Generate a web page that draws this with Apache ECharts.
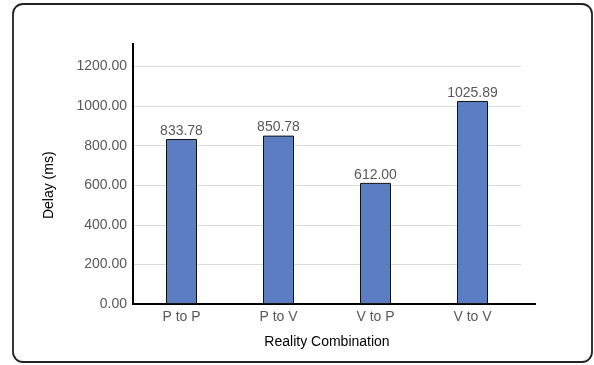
<!DOCTYPE html>
<html>
<head>
<meta charset="utf-8">
<script src="https://cdn.jsdelivr.net/npm/echarts@6/dist/echarts.min.js"></script>
<style>
  html, body { margin: 0; padding: 0; background: #ffffff; }
  #chart { width: 594px; height: 365px; }
</style>
</head>
<body>
<div id="chart"></div>
<script>
// Mean delay per reality combination
const categories = ['P to P', 'P to V', 'V to P', 'V to V'];
const delays = [833.78, 850.78, 612.00, 1025.89];
const yTicks = [0, 200, 400, 600, 800, 1000, 1200];

const FONT = '"Liberation Sans", Arial, sans-serif';
const chart = echarts.init(document.getElementById('chart'), null, { renderer: 'canvas' });

chart.setOption({
  animation: false,
  backgroundColor: '#ffffff',
  textStyle: { fontFamily: FONT },
  grid: { left: 133, right: 73, top: 66.5, bottom: 61 },
  xAxis: {
    type: 'category',
    data: categories,
    name: 'Reality Combination',
    nameLocation: 'middle',
    nameGap: 31,
    nameTextStyle: { color: '#000000', fontSize: 14, fontFamily: FONT },
    axisLine: { show: true, lineStyle: { color: '#000000', width: 2 } },
    axisTick: { show: false },
    axisLabel: { color: '#595959', fontSize: 14, margin: 6, fontFamily: FONT }
  },
  yAxis: {
    type: 'value',
    min: yTicks[0],
    max: yTicks[yTicks.length - 1],
    interval: 200,
    name: 'Delay (ms)',
    nameLocation: 'middle',
    nameGap: 77,
    nameTextStyle: { color: '#000000', fontSize: 14, fontFamily: FONT },
    axisLine: { show: true, lineStyle: { color: '#000000', width: 2 } },
    axisTick: { show: false },
    axisLabel: {
      color: '#595959', fontSize: 14, margin: 6, fontFamily: FONT,
      formatter: v => v.toFixed(2)
    },
    splitLine: { show: true, lineStyle: { color: '#d9d9d9', width: 1 } }
  },
  series: [{
    type: 'bar',
    data: delays,
    barWidth: 31,
    itemStyle: { color: '#5b7ec2', borderColor: '#111111', borderWidth: 1 },
    label: {
      show: true,
      position: 'top',
      distance: 1,
      color: '#595959',
      fontSize: 14,
      fontFamily: FONT,
      formatter: p => p.value.toFixed(2)
    }
  }],
  graphic: [
    // rounded frame around the whole chart
    {
      type: 'rect', silent: true, z: 100,
      shape: { x: 13, y: 4, width: 579, height: 358, r: 10 },
      style: { fill: 'none', stroke: '#222222', lineWidth: 1.8 }
    },
    // value axis line continues above the top gridline
    {
      type: 'line', silent: true, z: 100,
      shape: { x1: 133, y1: 43, x2: 133, y2: 67 },
      style: { stroke: '#000000', lineWidth: 2 }
    },
    // category axis line continues past the plot area
    {
      type: 'line', silent: true, z: 100,
      shape: { x1: 520, y1: 304, x2: 536, y2: 304 },
      style: { stroke: '#000000', lineWidth: 2 }
    }
  ]
});
</script>
</body>
</html>
